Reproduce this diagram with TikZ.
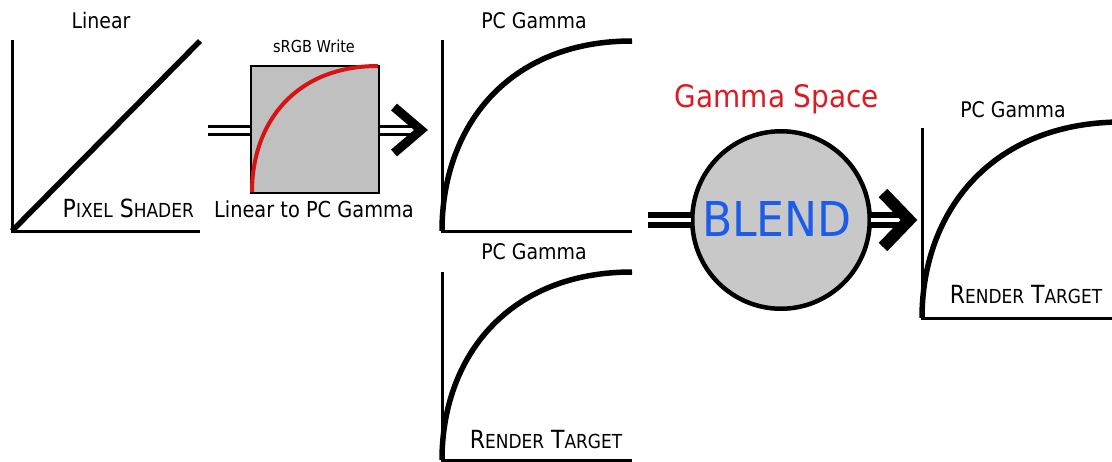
\documentclass[tikz,border=0pt]{standalone}
\usepackage{graphicx}
\usepackage{fontspec}
\setmainfont{DejaVu Sans}
\definecolor{boxgray}{RGB}{192,192,192}
\definecolor{ballgray}{RGB}{200,200,200}
\definecolor{spacered}{RGB}{220,28,36}
\definecolor{blendblue}{RGB}{28,92,235}
\definecolor{curvered}{RGB}{215,20,20}
% narrow the type a little, for a Tahoma-like set
\newcommand{\narrow}[1]{\scalebox{0.88}[1]{#1}}
% lower-case part of a fake small-caps word
\newcommand{\lowcap}[1]{{\fontsize{19.3}{19.3}\selectfont #1}}
\begin{document}
\begin{tikzpicture}[x=1pt,y=-1pt,
  axis/.style={line width=3pt, line join=miter},
  curve/.style={line width=5.5pt},
  title/.style={inner sep=0pt, anchor=base, font=\fontsize{21.5}{21.5}\selectfont},
  caption/.style={inner sep=0pt, anchor=base, font=\fontsize{25}{25}\selectfont},
  pipe/.style={draw=black, double=white, line width=3pt, double distance=5pt},
  fatpipe/.style={draw=black, double=white, line width=6pt, double distance=4pt},
  chevron/.style={line width=9pt, line join=miter, miter limit=10},
  fatchevron/.style={line width=12pt, line join=miter, miter limit=10}]
\useasboundingbox (0,0) rectangle (1112,461);

% ---- pixel shader output: linear ramp
\draw[axis] (12,40) -- (12,231) -- (200,231);
\draw[curve] (12,231) -- (200,41);
\node[title] (lin) at (101,28) {\narrow{Linear}};
\node[caption, anchor=base east] (pshader) at (194,217) {\narrow{P\lowcap{IXEL} S\lowcap{HADER}}};

% ---- sRGB write conversion box
\node[draw=black, line width=2pt, fill=boxgray, minimum width=128pt, minimum height=127pt, inner sep=0pt] (srgb) at (315,129) {};
\draw[curvered, line width=4pt] (252,192) .. controls (252,122) and (296,66) .. (378,66);
\node[title, font=\fontsize{16.5}{16.5}\selectfont] (srgbw) at (314,52) {\narrow{sRGB Write}};
\node[title, font=\fontsize{22}{22}\selectfont] (lin2pc) at (314,217) {\narrow{Linear to PC Gamma}};

\coordinate (in1) at (208,130);
\coordinate (out1) at (421,130);
\draw[pipe] (in1) -- (srgb.west |- in1);
\draw[pipe] (srgb.east |- out1) -- ([xshift=-3pt]out1);
\draw[chevron] ([shift={(-27,-23)}]out1) -- (out1) -- ([shift={(-27,23)}]out1);

% ---- PC gamma curve (top)
\draw[axis] (442,40) -- (442,231) -- (632,231);
\draw[curve] (442,231) .. controls (442,126) and (508.5,41) .. (632,41);
\node[title] (pcg1) at (534,28) {\narrow{PC Gamma}};

% ---- PC gamma curve (render target, bottom)
\draw[axis] (442,272) -- (442,460) -- (632,460);
\draw[curve] (442,460) .. controls (442,356.6) and (508.5,272) .. (632,272);
\node[title] (pcg2) at (534,259) {\narrow{PC Gamma}};
\node[caption] (rt1) at (546,448) {\narrow{R\lowcap{ENDER} T\lowcap{ARGET}}};

% ---- blending in gamma space
\node[circle, draw=black, line width=3pt, fill=ballgray, minimum size=179pt, inner sep=0pt] (blend) at (781,220) {};
\node[inner sep=0pt, anchor=base, text=blendblue, font=\fontsize{48}{48}\selectfont] (blendtxt) at (777,236) {\scalebox{0.92}[1]{BLEND}};
\node[inner sep=0pt, anchor=base, text=spacered, font=\fontsize{31}{31}\selectfont] (gspace) at (777,107) {\scalebox{0.9}[1]{Gamma Space}};

\coordinate (in2) at (648,220);
\coordinate (out2) at (909,220);
\draw[fatpipe] (in2) -- ([xshift=1pt]blend.west);
\draw[fatpipe] ([xshift=-1pt]blend.east) -- ([xshift=-4pt]out2);
\draw[fatchevron] ([shift={(-26,-27)}]out2) -- (out2) -- ([shift={(-26,27)}]out2);
\draw[line width=3pt] (blend) circle[radius=88pt];

% ---- PC gamma curve (render target, right)
\draw[axis] (922,128) -- (922,318) -- (1112,318);
\draw[curve] (922,318) .. controls (922,211) and (992,122) .. (1122,122);
\node[title] (pcg3) at (1013,117) {\narrow{PC Gamma}};
\node[caption] (rt2) at (1026,303) {\narrow{R\lowcap{ENDER} T\lowcap{ARGET}}};
\end{tikzpicture}
\end{document}
